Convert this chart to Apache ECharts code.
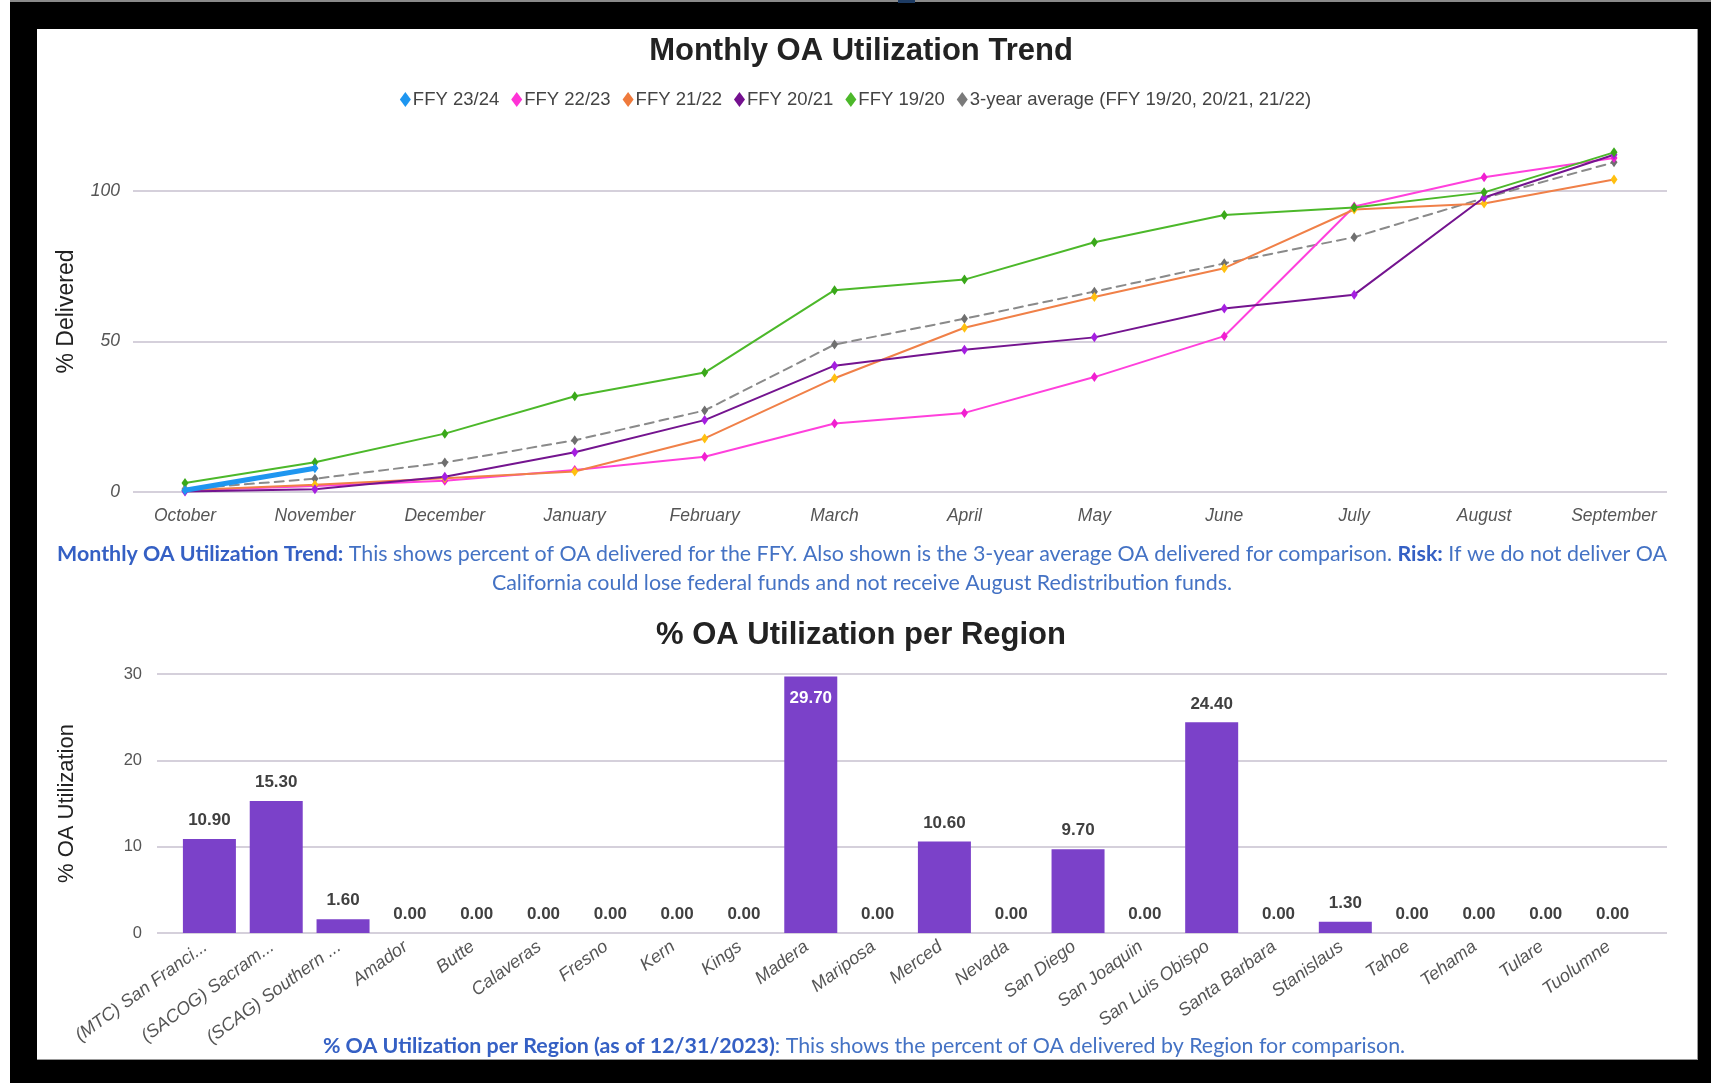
<!DOCTYPE html>
<html>
<head>
<meta charset="utf-8">
<title>OA Utilization</title>
<script src="https://cdn.jsdelivr.net/npm/echarts@6/dist/echarts.min.js"></script>
<style>
html, body { margin: 0; padding: 0; background: #fff; }
#frame { position: absolute; left: 10px; top: 2px; width: 1701px; height: 1081px; background: #000; }
#topline { position: absolute; left: 10px; top: 0; width: 1701px; height: 2px; background: #8a8a8a; }
#mark { position: absolute; left: 898px; top: 0; width: 17px; height: 3px; background: #1d3b63; }
#panel { position: absolute; left: 37px; top: 29px; width: 1660px; height: 1030px; background: #fff; border-right: 1px solid #999; border-bottom: 1px solid #999; }
#main { position: absolute; left: 0; top: 0; width: 1711px; height: 1083px; }
</style>
</head>
<body>
<div id="frame"></div>
<div id="topline"></div>
<div id="mark"></div>
<div id="panel"></div>
<div id="main"></div>
<script>
// monthly trend, % delivered
var months = ['October', 'November', 'December', 'January', 'February', 'March',
	'April', 'May', 'June', 'July', 'August', 'September'];
var ffy2324 = [0.6, 7.9];
var ffy2223 = [0.5, 2.0, 3.7, 7.3, 11.7, 22.8, 26.3, 38.2, 51.8, 94.9, 104.6, 111.0];
var ffy2122 = [0.6, 2.4, 4.6, 6.8, 17.8, 37.8, 54.6, 64.8, 74.4, 93.9, 95.9, 103.9];
var ffy2021 = [0.2, 0.9, 5.1, 13.2, 23.9, 42.0, 47.3, 51.4, 61.0, 65.6, 97.9, 112.1];
var ffy1920 = [3.0, 9.9, 19.4, 31.8, 39.7, 67.1, 70.6, 83.0, 92.1, 94.6, 99.6, 112.9];
var avg3yr = [1.0, 4.4, 9.8, 17.2, 27.1, 49.0, 57.6, 66.6, 76.0, 84.7, 97.7, 109.6];

// % OA utilization per region
var regions = ['(MTC) San Franci...', '(SACOG) Sacram...', '(SCAG) Southern ...', 'Amador', 'Butte',
	'Calaveras', 'Fresno', 'Kern', 'Kings', 'Madera', 'Mariposa', 'Merced', 'Nevada', 'San Diego',
	'San Joaquin', 'San Luis Obispo', 'Santa Barbara', 'Stanislaus', 'Tahoe', 'Tehama', 'Tulare', 'Tuolumne'];
var regionValues = [10.9, 15.3, 1.6, 0, 0, 0, 0, 0, 0, 29.7, 0, 10.6, 0, 9.7, 0, 24.4, 0, 1.3, 0, 0, 0, 0];

var gridColor = '#d5d0db';
var labelGray = '#555555';
var capFont = 'Lato';

function lineSeries(name, data, lineColor, dotColor, width, dashed, z) {
	return {
		name: name,
		type: 'line',
		xAxisIndex: 0,
		yAxisIndex: 0,
		data: data,
		z: z,
		symbol: 'diamond',
		symbolSize: [7, 10],
		showSymbol: true,
		lineStyle: { color: lineColor, width: width, type: dashed ? [9, 6] : 'solid', cap: 'round' },
		itemStyle: { color: dotColor },
		emphasis: { disabled: true }
	};
}

var barData = regionValues.map(function (v) {
	if (v > 28) {
		// no room above the bar, label goes inside
		return { value: v, label: { position: 'insideTop', distance: 13, color: '#ffffff' } };
	}
	return v;
});

var chartDom = document.getElementById('main');
var myChart = echarts.init(chartDom);
var option;

option = {
	animation: false,
	backgroundColor: 'transparent',
	title: [
		{
			text: 'Monthly OA Utilization Trend',
			left: 861, top: 33, textAlign: 'center', padding: 0,
			textStyle: { fontFamily: 'Arial', fontSize: 31, fontWeight: 'bold', color: '#222222', lineHeight: 36 }
		},
		{
			text: '{b|Monthly OA Utilization Trend:}{n| This shows percent of OA delivered for the FFY. Also shown is the 3-year average OA delivered for comparison. }{b|Risk:}{n| If we do not deliver OA}\n{n|California could lose federal funds and not receive August Redistribution funds.}',
			left: 862, top: 540, textAlign: 'center', padding: 0,
			textStyle: {
				rich: {
					b: { fontFamily: capFont, fontSize: 21.4, fontWeight: 'bold', color: '#3560c4', lineHeight: 28.5, align: 'center' },
					n: { fontFamily: capFont, fontSize: 21.4, fontWeight: 'normal', color: '#4472c4', lineHeight: 28.5, align: 'center' }
				}
			}
		},
		{
			text: '% OA Utilization per Region',
			left: 861, top: 617, textAlign: 'center', padding: 0,
			textStyle: { fontFamily: 'Arial', fontSize: 31, fontWeight: 'bold', color: '#222222', lineHeight: 36 }
		},
		{
			text: '{b|% OA Utilization per Region (as of 12/31/2023)}{n|: This shows the percent of OA delivered by Region for comparison.}',
			left: 864, top: 1032, textAlign: 'center', padding: 0,
			textStyle: {
				rich: {
					b: { fontFamily: capFont, fontSize: 21.4, fontWeight: 'bold', color: '#3560c4', lineHeight: 28 },
					n: { fontFamily: capFont, fontSize: 21.4, fontWeight: 'normal', color: '#4472c4', lineHeight: 28 }
				}
			}
		}
	],
	legend: {
		top: 85,
		left: 'center',
		icon: 'diamond',
		itemWidth: 11,
		itemHeight: 15,
		itemGap: 12,
		textStyle: { fontFamily: 'Arial', fontSize: 18.5, color: '#444444', padding: [0, 0, 0, -3] },
		data: [
			{ name: 'FFY 23/24', itemStyle: { color: '#1e96f0' } },
			{ name: 'FFY 22/23', itemStyle: { color: '#ff33d6' } },
			{ name: 'FFY 21/22', itemStyle: { color: '#ef7a3c' } },
			{ name: 'FFY 20/21', itemStyle: { color: '#74108f' } },
			{ name: 'FFY 19/20', itemStyle: { color: '#4cb82a' } },
			{ name: '3-year average (FFY 19/20, 20/21, 21/22)', itemStyle: { color: '#7a7a7a' } }
		]
	},
	grid: [
		{ left: 185, right: 97, top: 131, height: 361 },
		{ left: 133, right: 44, top: 131, height: 361 },
		{ left: 176, width: 1470, top: 674, height: 259 },
		{ left: 157, right: 44, top: 674, height: 259 }
	],
	xAxis: [
		{
			type: 'category', gridIndex: 0, data: months, boundaryGap: false,
			axisLine: { show: false }, axisTick: { show: false },
			axisLabel: { fontFamily: 'Arial', fontSize: 17.5, fontStyle: 'italic', color: labelGray, margin: 15 }
		},
		{ type: 'value', gridIndex: 1, min: 0, max: 1, show: false },
		{
			type: 'category', gridIndex: 2, data: regions, boundaryGap: true,
			axisLine: { show: false }, axisTick: { show: false },
			axisLabel: {
				fontFamily: 'Arial', fontSize: 18, fontStyle: 'italic', color: labelGray,
				rotate: 36, margin: 9, interval: 0, padding: [0, 5, 12, 0]
			}
		},
		{ type: 'value', gridIndex: 3, min: 0, max: 1, show: false }
	],
	yAxis: [
		{ type: 'value', gridIndex: 0, min: 0, max: 120, show: false },
		{
			type: 'value', gridIndex: 1, min: 0, max: 120, interval: 50,
			name: '% Delivered', nameLocation: 'middle', nameGap: 55,
			nameTextStyle: { fontFamily: 'Arial', fontSize: 23, color: '#222222' },
			axisLine: { show: false }, axisTick: { show: false },
			axisLabel: { fontFamily: 'Arial', fontSize: 17.5, fontStyle: 'italic', color: labelGray, margin: 13, showMaxLabel: false },
			splitLine: { show: true, showMaxLine: false, lineStyle: { color: gridColor, width: 2 } }
		},
		{ type: 'value', gridIndex: 2, min: 0, max: 30, show: false },
		{
			type: 'value', gridIndex: 3, min: 0, max: 30, interval: 10,
			name: '% OA Utilization', nameLocation: 'middle', nameGap: 79,
			nameTextStyle: { fontFamily: 'Arial', fontSize: 22, color: '#222222' },
			axisLine: { show: false }, axisTick: { show: false },
			axisLabel: { fontFamily: 'Arial', fontSize: 16.5, color: labelGray, margin: 15 },
			splitLine: { show: true, lineStyle: { color: gridColor, width: 2 } }
		}
	],
	series: [
		lineSeries('FFY 23/24', ffy2324, '#1e96f0', '#1e96f0', 5, false, 9),
		lineSeries('FFY 22/23', ffy2223, '#ff40dc', '#f01fd0', 2, false, 4),
		lineSeries('FFY 21/22', ffy2122, '#f08048', '#ffc010', 2, false, 4),
		lineSeries('FFY 20/21', ffy2021, '#74148f', '#a51fe0', 2, false, 4),
		lineSeries('FFY 19/20', ffy1920, '#4cb82a', '#3aa81a', 2, false, 5),
		lineSeries('3-year average (FFY 19/20, 20/21, 21/22)', avg3yr, '#8a8a8a', '#6f6f6f', 2, true, 3),
		{
			name: 'Utilization',
			type: 'bar',
			xAxisIndex: 2,
			yAxisIndex: 2,
			data: barData,
			barWidth: 53,
			itemStyle: { color: '#7b41c9' },
			label: {
				show: true, position: 'top', distance: 10,
				fontFamily: 'Arial', fontSize: 17, fontWeight: 'bold', color: '#404040',
				formatter: function (p) { return p.value.toFixed(2); }
			},
			emphasis: { disabled: true }
		}
	]
};

option && myChart.setOption(option);
</script>
</body>
</html>
